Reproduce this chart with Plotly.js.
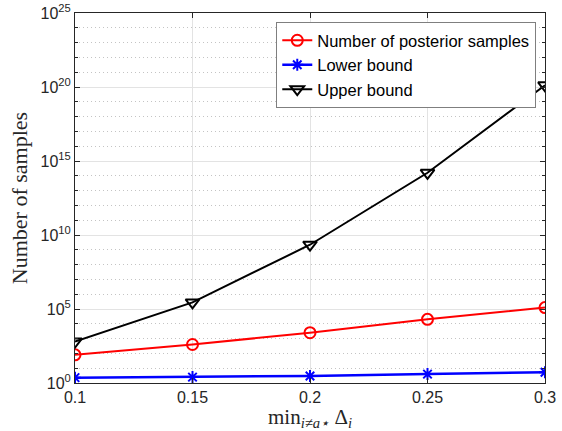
<!DOCTYPE html>
<html>
<head>
<meta charset="utf-8">
<script src="https://cdn.plot.ly/plotly-3.0.1.min.js"></script>
<style>html,body{margin:0;padding:0;background:#fff;}#chart{width:562px;height:431px;}</style>
</head>
<body>
<div id="chart"></div>
<script>
// Data
const minGap = [0.1, 0.15, 0.2, 0.25, 0.3];
const posteriorSamples = [80, 400, 2500, 20000, 125000];
const lowerBound = [2.3, 2.5, 3.0, 4.0, 5.3];
const upperBound = [630, 2.8e5, 2.2e9, 1.6e14, 1.3e20];
const xTicks = [0.1, 0.15, 0.2, 0.25, 0.3];
const xTickLabels = ['0.1', '0.15', '0.2', '0.25', '0.3'];
const yTickExponents = [0, 5, 10, 15, 20, 25];

const yTickVals = yTickExponents.map(e => Math.pow(10, e));
const yTickText = yTickExponents.map(e => '10<sup>' + e + '</sup>');

const traces = [
  {x: minGap, y: posteriorSamples, name: 'Number of posterior samples', mode: 'lines+markers',
   line: {color: '#ff0000', width: 2},
   marker: {symbol: 'circle-open', size: 11, color: '#ff0000', line: {width: 2, color: '#ff0000'}}},
  {x: minGap, y: lowerBound, name: 'Lower bound', mode: 'lines+markers',
   line: {color: '#0000ff', width: 2.5},
   marker: {symbol: 'asterisk-open', size: 10, color: '#0000ff', line: {width: 2, color: '#0000ff'}}},
  {x: minGap, y: upperBound, name: 'Upper bound', mode: 'lines+markers',
   line: {color: '#000000', width: 2},
   marker: {symbol: 'triangle-down-open', size: 12, color: '#000000', line: {width: 2, color: '#000000'}}}
];

const layout = {
  width: 562, height: 431,
  margin: {l: 75, r: 17, t: 13, b: 48},
  paper_bgcolor: '#ffffff', plot_bgcolor: '#ffffff',
  font: {family: 'Liberation Sans, Arial, sans-serif', size: 16, color: '#262626'},
  showlegend: true,
  legend: {x: 0.981, xanchor: 'right', y: 0.976, yanchor: 'top',
           bgcolor: '#ffffff', bordercolor: '#7f7f7f', borderwidth: 1.2,
           font: {family: 'Liberation Sans, Arial, sans-serif', size: 16.5, color: '#000000'},
           tracegroupgap: 0, itemwidth: 30},
  xaxis: {
    range: [0.1, 0.3], tickmode: 'array', tickvals: xTicks, ticktext: xTickLabels,
    showline: true, linecolor: '#262626', linewidth: 1, mirror: 'ticks',
    ticks: 'inside', ticklen: 5, tickcolor: '#262626',
    showgrid: true, gridcolor: '#e3e3e3', gridwidth: 1, zeroline: false,
    tickfont: {size: 16, color: '#262626'},
    title: {text: 'min<sub><i>i≠a⋆</i></sub> Δ<sub><i>i</i></sub>',
            font: {family: 'Liberation Serif, Times New Roman, serif', size: 21, color: '#262626'},
            standoff: 0}
  },
  yaxis: {
    type: 'log', range: [0, 25], tickmode: 'array', tickvals: yTickVals, ticktext: yTickText,
    showline: true, linecolor: '#262626', linewidth: 1, mirror: 'ticks',
    ticks: 'inside', ticklen: 5, tickcolor: '#262626',
    showgrid: true, gridcolor: '#e3e3e3', gridwidth: 1, zeroline: false,
    tickfont: {size: 16, color: '#262626'},
    minor: {dtick: 1, ticks: 'inside', ticklen: 3, tickcolor: '#262626',
            showgrid: true, gridcolor: '#c4c4c4', griddash: '1px,3px', gridwidth: 1},
    title: {text: 'Number of samples',
            font: {family: 'Liberation Serif, Times New Roman, serif', size: 22, color: '#262626'},
            standoff: 6}
  }
};

Plotly.newPlot('chart', traces, layout, {displayModeBar: false, staticPlot: true});
</script>
</body>
</html>
